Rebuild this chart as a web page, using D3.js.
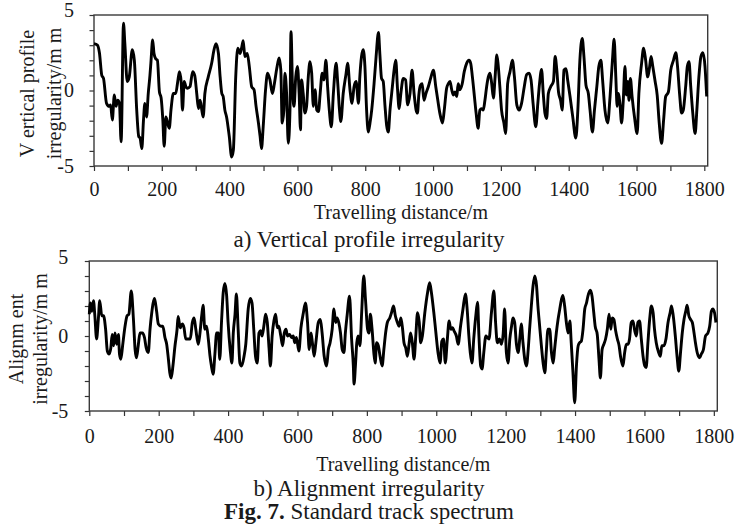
<!DOCTYPE html>
<html>
<head>
<meta charset="utf-8">
<script src="https://cdn.jsdelivr.net/npm/d3@7/dist/d3.min.js"></script>
<style>
  body { margin: 0; background: #fff; }
  svg text { font-family: "Liberation Serif", "Times New Roman", serif; fill: #1a1a1a; }
</style>
</head>
<body>
<div id="chart"></div>
<script>
// a) vertical profile irregularity (distance m, value mm)
const profileDist = [0,10,16,23,28,37,45,49,54,60,65,70,75,80,87,91,98,104,113,119,126,132,136,141,146,150,155,160,165,168,173,177,182,187,193,198,203,207,212,217,222,227,234,241,247,252,257,261,266,271,276,283,291,297,303,308,313,318,322,327,337,347,354,360,367,372,377,381,386,391,399,406,411,418,424,431,436,440,445,452,458,465,472,478,485,490,494,499,506,512,519,526,532,539,546,551,555,560,563,568,573,578,581,586,590,595,600,605,609,612,617,622,627,632,637,642,647,652,657,662,667,673,678,684,689,694,700,706,714,719,724,728,735,743,748,755,761,767,773,780,784,789,794,799,804,809,814,819,826,832,839,843,848,853,858,863,868,873,880,885,890,895,900,905,912,919,925,932,938,944,950,954,958,963,968,973,979,986,994,1001,1008,1014,1020,1028,1033,1040,1045,1050,1055,1060,1065,1070,1074,1079,1086,1092,1099,1106,1111,1116,1122,1127,1133,1138,1143,1148,1153,1158,1163,1168,1173,1178,1183,1188,1192,1197,1202,1209,1214,1220,1227,1234,1240,1247,1254,1261,1269,1276,1283,1289,1295,1303,1309,1314,1320,1325,1330,1335,1340,1347,1355,1360,1365,1370,1376,1381,1386,1392,1397,1404,1412,1421,1427,1433,1440,1445,1451,1458,1463,1470,1476,1483,1489,1495,1500,1507,1515,1522,1529,1534,1539,1543,1546,1551,1556,1561,1566,1570,1574,1578,1582,1587,1594,1602,1607,1615,1621,1627,1633,1638,1643,1648,1655,1661,1667,1674,1680,1686,1694,1701,1709,1716,1721,1727,1733,1738,1745,1750,1755,1760,1766,1773,1778,1784,1790,1796,1802,1807];
const profileVal = [3.1,3.0,2.5,1.0,0.8,-0.85,-1.05,-0.95,-1.95,-0.3,-1.05,-0.65,-0.85,-3.4,4.45,3.1,0.6,0.9,2.7,2.0,-1.3,-3.05,-3.15,-3.85,-1.95,-0.85,-1.75,-0.2,1.0,1.9,3.35,2.45,2.1,2.0,-0.1,-0.5,-1.95,-3.7,-1.75,-2.15,-2.5,-1.3,-0.2,-0.2,0.6,1.25,0.6,-1.3,0.6,0.25,0.15,0.25,1.25,1.0,-0.2,-1.2,-0.65,-1.3,-1.75,-0.2,0.9,1.8,2.7,3.1,2.45,0.9,-0.2,-0.4,-1.3,-1.75,-3.05,-4.4,-3.95,0.9,2.8,2.45,2.9,3.3,2.25,2.45,1.6,0.25,0.05,-1.05,-2.15,-3.05,-3.85,-2.4,0.05,1.15,0.7,-0.2,0.45,1.45,2.15,1.35,-2.15,-1.3,1.15,-0.2,-3.5,-1.3,3.9,-0.2,-1.05,0.9,1.6,-0.2,-2.6,0.7,-0.2,-1.5,-1.05,0.9,1.9,1.15,-1.05,0.05,-1.3,-1.4,-0.2,1.15,0.7,2.0,0.25,-1.3,-2.4,-0.2,1.8,0.45,-1.3,-2.05,-0.2,1.05,1.8,0.05,-0.85,0.25,0.6,-0.85,0.9,2.25,2.7,1.6,-1.3,-2.75,-2.15,-1.3,0.45,2.25,3.85,2.45,0.8,0.6,-0.95,-2.3,-2.75,-1.3,0.25,1.35,2.0,0.15,-1.2,-0.2,0.8,0.7,-0.95,-0.2,1.35,-0.2,-1.3,-1.5,-0.3,0.35,0.45,-0.65,-0.2,0.25,0.9,1.35,0.25,-0.65,-1.5,-2.15,-1.3,0.15,0.45,0.6,0.05,-0.3,-0.1,-0.4,0.45,0.05,0.45,1.25,1.8,2.0,1.8,0.9,-0.4,-1.5,-2.5,-1.3,-1.2,-1.3,-0.65,0.25,0.9,1.15,0.45,-0.5,0.9,2.35,1.7,0.25,-1.3,-2.15,-2.85,0.45,1.25,2.0,0.9,-0.95,-1.3,-0.85,0.25,1.05,1.15,0.7,-0.85,-2.4,-0.85,0.45,1.4,-0.2,-1.5,-1.85,-0.2,0.25,0.6,2.25,1.35,-0.1,-0.65,-1.3,1.35,1.45,0.7,-0.4,-1.75,-3.15,-1.3,2.0,3.45,2.25,0.35,-0.2,-1.3,-2.75,-1.3,0.25,1.6,2.0,0.7,-1.3,-2.15,-0.4,2.0,3.4,0.9,-1.05,-0.2,-0.85,-2.15,-0.65,1.6,-0.3,0.6,-0.65,0.8,-0.4,-1.75,-2.85,-0.2,1.8,2.8,2.0,0.9,1.45,2.25,1.6,0.6,-0.3,-2.15,-3.5,-1.95,-0.4,-0.1,1.35,2.0,2.5,1.6,-0.2,-1.5,-1.3,0.25,1.6,1.9,0.25,-1.5,-2.85,-1.3,0.9,2.25,2.5,1.6,-0.4];

// b) alignment irregularity
const alignDist = [0,3,7,12,16,21,26,30,36,41,47,52,57,62,66,70,74,79,84,87,91,96,103,109,114,121,127,132,136,141,146,153,159,164,170,175,180,184,188,194,199,207,212,218,223,228,232,236,241,247,253,256,262,268,273,278,285,291,297,302,307,314,318,324,328,333,338,343,348,352,357,362,367,372,376,381,386,391,396,400,406,411,415,420,424,429,434,439,446,451,458,464,469,474,479,484,489,494,498,503,508,513,518,522,527,532,537,542,546,552,557,562,567,571,577,583,588,592,597,604,610,617,623,629,634,639,643,648,653,660,666,671,677,684,689,694,700,705,710,714,719,724,729,734,738,743,750,756,761,763,767,771,775,780,785,791,796,802,806,810,815,820,824,828,833,838,844,849,854,859,866,871,877,882,888,893,898,903,907,912,917,922,926,931,936,941,946,951,955,960,967,975,981,986,993,999,1005,1011,1016,1021,1026,1032,1037,1042,1047,1051,1058,1063,1070,1077,1084,1089,1094,1098,1103,1108,1114,1119,1123,1128,1132,1137,1143,1147,1152,1159,1166,1171,1176,1182,1188,1193,1197,1202,1207,1212,1217,1221,1226,1231,1236,1241,1245,1250,1255,1260,1265,1269,1274,1279,1284,1289,1293,1298,1303,1308,1313,1317,1322,1327,1332,1337,1341,1346,1351,1356,1361,1365,1370,1375,1380,1385,1389,1394,1399,1404,1409,1413,1418,1423,1428,1433,1437,1444,1449,1454,1458,1464,1469,1473,1478,1483,1488,1493,1498,1503,1507,1512,1517,1522,1527,1531,1538,1543,1548,1553,1557,1562,1567,1572,1577,1581,1586,1591,1596,1601,1605,1610,1615,1620,1625,1629,1634,1641,1646,1650,1656,1662,1668,1674,1678,1683,1689,1694,1699,1704,1709,1714,1719,1723,1728,1733,1738,1743,1747,1752,1759,1764,1770,1776,1783,1788,1793,1797,1802,1806];
const alignVal = [1.45,2.2,1.65,2.35,1.35,-0.2,1.1,2.35,1.35,1.35,0.45,-1.0,-1.2,-0.8,0.1,-0.65,0.2,-0.55,0.1,-1.2,-1.55,-0.65,0.65,1.35,1.45,3.0,1.2,-0.9,-1.45,-0.65,0.2,0.2,-0.1,-0.8,-1.1,0.45,1.55,2.2,2.5,1.65,0.8,0.65,0.65,-0.1,-0.55,-1.55,-2.45,-2.8,-2.0,-0.65,0.45,1.3,0.55,0.8,0.55,-0.2,-0.2,-0.2,0.9,1.2,0.45,-0.55,0.0,1.35,2.05,0.45,0.65,-0.2,-1.35,-2.0,-2.55,-1.2,0.2,0.2,-1.55,0.9,2.9,3.5,2.65,0.9,-0.9,-1.8,0.2,1.45,2.8,0.45,-1.8,-2.0,-1.35,-0.55,1.8,2.5,2.2,0.45,-1.35,-1.8,0.2,0.35,0.0,0.65,1.45,0.9,-0.8,-2.0,0.0,1.0,1.45,0.55,0.65,0.0,-0.65,0.2,0.45,0.0,0.1,-0.1,0.0,-0.45,-0.1,-1.0,0.55,1.55,2.2,0.9,-0.9,0.2,-0.45,-1.35,-0.45,0.9,1.1,0.2,-1.35,-2.0,-0.9,-0.45,0.45,1.8,0.9,1.2,0.9,0.2,-0.9,-1.1,0.2,1.35,2.65,-0.2,-2.0,-3.2,-2.0,-0.45,0.0,-0.65,1.55,4.0,2.45,0.45,0.2,1.45,0.45,-1.1,-1.8,-0.45,-0.65,-1.35,-2.0,-0.9,0.2,0.9,1.2,1.55,2.0,1.35,0.9,0.65,1.2,0.45,-0.45,-0.8,-1.35,-0.45,0.2,-0.45,-1.55,0.0,1.55,0.9,-0.45,0.0,1.55,2.9,3.55,2.9,1.55,0.2,-1.1,-1.8,-0.35,-0.2,-1.8,-0.2,1.0,0.45,0.55,0.35,0.0,-0.55,0.65,1.8,2.8,1.8,0.0,-1.1,-1.8,-0.2,1.35,2.25,0.0,-2.0,-2.2,-1.1,0.0,-0.1,-0.2,1.55,3.0,0.9,-0.45,-0.2,-0.55,0.2,1.8,-1.1,-1.8,-0.2,0.65,1.2,0.9,-0.55,-1.1,-0.1,0.8,-0.45,-1.55,-2.0,-0.9,0.45,2.0,3.35,4.0,3.35,2.0,0.65,-0.65,-1.8,-2.45,-1.1,0.45,0.45,-1.1,-1.8,-0.9,0.2,1.1,1.8,2.45,2.7,2.0,0.9,0.2,1.0,-0.45,-2.45,-4.45,-2.0,-0.65,-0.45,-0.35,0.45,1.8,2.2,2.65,3.05,2.65,1.55,0.65,0.1,-1.55,-2.8,-0.9,-0.55,-0.2,0.45,1.45,0.45,1.2,1.1,0.35,-0.2,-0.65,-1.35,-2.0,-1.1,-0.55,-0.55,-0.2,0.9,1.0,0.35,0.0,0.9,1.0,-0.2,-1.35,-2.0,-2.1,-0.45,1.1,2.0,1.55,0.45,-0.45,-1.1,-1.35,-0.65,-0.65,-0.2,0.9,1.55,2.0,1.35,0.0,-1.35,-2.35,-1.1,0.2,1.1,1.65,2.05,1.35,1.1,0.9,0.2,-0.45,-1.1,-1.45,-1.2,-0.9,0.0,0.2,0.65,1.65,1.8,1.55,0.9];

const xTicks = d3.range(0, 1801, 100);
const xLabels = [0, 200, 400, 600, 800, 1000, 1200, 1400, 1600, 1800];
const yTicks = d3.range(-5, 6, 1);
const yLabels = [-5, 0, 5];
const xTitle = "Travelling distance/m";

const width = 735, height = 525;
const svg = d3.select("#chart").append("svg")
    .attr("width", width)
    .attr("height", height);

function drawPanel(p) {
    const x = d3.scaleLinear().domain([0, 1810]).range([p.left, p.right]);
    const y = d3.scaleLinear().domain([-5, 5]).range([p.bottom, p.top]);

    const g = svg.append("g");

    // y axis: ticks every 1 mm, labels only at -5 / 0 / 5
    const yAxis = g.append("g")
        .attr("transform", `translate(${p.left},0)`)
        .call(d3.axisLeft(y)
            .tickValues(yTicks)
            .tickSize(4.5)
            .tickSizeOuter(0)
            .tickPadding(p.yPad)
            .tickFormat(d => yLabels.includes(d) ? String(d) : ""));
    yAxis.select(".domain").remove();
    yAxis.selectAll("line").attr("stroke", "#333").attr("stroke-width", 1.2);
    yAxis.selectAll("text").style("font-size", "20px")
        .attr("dy", d => d === 5 ? p.topLabelDy : "0.32em");

    // x axis
    const xAxis = g.append("g")
        .attr("transform", `translate(0,${p.bottom})`)
        .call(d3.axisBottom(x)
            .tickValues(xTicks)
            .tickSize(5)
            .tickSizeOuter(0)
            .tickPadding(p.xPad)
            .tickFormat(d => xLabels.includes(d) ? String(d) : ""));
    xAxis.select(".domain").remove();
    xAxis.selectAll("line").attr("stroke", "#333").attr("stroke-width", 1.2);
    xAxis.selectAll("text").style("font-size", "20px");

    // plot frame
    g.append("rect")
        .attr("x", p.left)
        .attr("y", p.top)
        .attr("width", p.right - p.left)
        .attr("height", p.bottom - p.top)
        .attr("fill", "none")
        .attr("stroke", "#3a3a3a")
        .attr("stroke-width", 1.4);

    const line = d3.line()
        .x((d, i) => x(p.dist[i]))
        .y(d => y(d))
        .curve(d3.curveMonotoneX);

    g.append("path")
        .datum(p.vals)
        .attr("fill", "none")
        .attr("stroke", "#000")
        .attr("stroke-width", 2.9)
        .attr("stroke-linejoin", "round")
        .attr("d", line);

    // y axis title, two rotated lines
    const cy = (p.top + p.bottom) / 2 + 3;
    p.yTitle.forEach((t, i) => {
        svg.append("text")
            .attr("transform", `translate(${p.yTitleX[i]},${cy}) rotate(-90)`)
            .attr("text-anchor", "middle")
            .style("font-size", "20px")
            .text(t);
    });

    // x axis title
    svg.append("text")
        .attr("x", (p.left + p.right) / 2)
        .attr("y", p.xTitleY)
        .attr("text-anchor", "middle")
        .style("font-size", "20px")
        .text(xTitle);

    // sub caption
    svg.append("text")
        .attr("x", 369)
        .attr("y", p.captionY)
        .attr("text-anchor", "middle")
        .style("font-size", "23px")
        .text(p.caption);
}

drawPanel({
    left: 94, right: 707.7, top: 15, bottom: 166,
    dist: profileDist, vals: profileVal,
    yPad: 15.5, xPad: 11, topLabelDy: "0.05em",
    yTitle: ["V ertical profile", "irregularity/m m"],
    yTitleX: [34, 61],
    xTitleY: 219, caption: "a) Vertical profile irregularity", captionY: 247
});

drawPanel({
    left: 89.3, right: 717.3, top: 261, bottom: 411,
    dist: alignDist, vals: alignVal,
    yPad: 16.5, xPad: 13, topLabelDy: "0.12em",
    yTitle: ["Alignm ent", "irregularity/m m"],
    yTitleX: [23, 47],
    xTitleY: 471, caption: "b) Alignment irregularity", captionY: 496
});

const fig = svg.append("text")
    .attr("x", 369)
    .attr("y", 519)
    .attr("text-anchor", "middle")
    .style("font-size", "23px");
fig.append("tspan").style("font-weight", "bold").text("Fig. 7.");
fig.append("tspan").text(" Standard track spectrum");
</script>
</body>
</html>
